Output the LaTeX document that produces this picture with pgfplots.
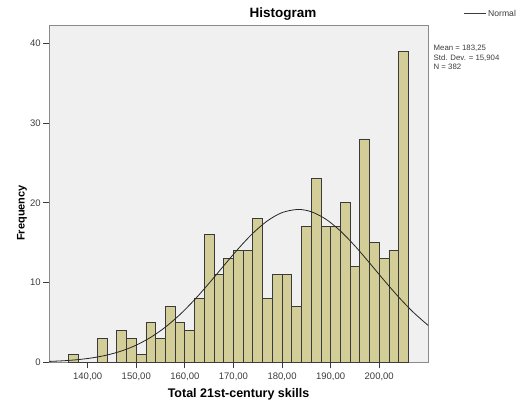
\documentclass[border=0pt]{standalone}
\usepackage{fontspec}
\setmainfont{Liberation Sans}
\usepackage{pgfplots}
\pgfplotsset{compat=1.18}

\definecolor{panel}{HTML}{F0F0F0}
\definecolor{barfill}{HTML}{D3CE97}
\definecolor{baredge}{HTML}{3A3A3A}
\definecolor{frame}{HTML}{8A8A8A}
\definecolor{txt}{HTML}{3C3C3C}

\begin{document}
\begin{tikzpicture}[x=1pt,y=1pt]
\useasboundingbox (0,0) rectangle (517,403);
\begin{axis}[
  at={(49.3pt,40.7pt)}, anchor=south west,
  scale only axis, width=379pt, height=336.8pt,
  xmin=132.1, xmax=210.1, ymin=0, ymax=42.23,
  axis background/.style={fill=panel},
  axis line style={draw=frame, line width=1.2pt},
  tick align=outside, tick pos=left,
  major tick length=6pt,
  tick style={draw=txt, line width=0.8pt},
  xtick={140,150,160,170,180,190,200},
  xticklabels={{140,00},{150,00},{160,00},{170,00},{180,00},{190,00},{200,00}},
  ytick={0,10,20,30,40},
  yticklabels={0,10,20,30,40},
  tick label style={font=\fontsize{9.5}{11}\selectfont, text=txt},
  xticklabel style={yshift=-1pt},
  yticklabel style={xshift=1pt},
]
% frequencies per bin of width 2, left edges 136 ... 204 (last point closes the final bin)
\addplot[ybar interval, fill=barfill, draw=baredge, line width=0.8pt] coordinates {
  (136,1) (138,0) (140,0) (142,3) (144,0) (146,4) (148,3) (150,1)
  (152,5) (154,3) (156,7) (158,5) (160,4) (162,8) (164,16) (166,11)
  (168,13) (170,14) (172,14) (174,18) (176,8) (178,11) (180,11) (182,7)
  (184,17) (186,23) (188,17) (190,17) (192,20) (194,12) (196,28) (198,15)
  (200,13) (202,14) (204,39) (206,39)
};
% fitted normal curve: mean 183.25, sd 15.904, N = 382, bin width 2
\addplot[black!85, line width=0.8pt, smooth] coordinates {
  (132.1,0.109) (135,0.192) (138,0.335) (141,0.562) (144,0.912) (147,1.427)
  (150,2.155) (153,3.141) (156,4.416) (159,5.993) (162,7.850) (165,9.922)
  (168,12.102) (171,14.245) (174,16.183) (177,17.741) (180,18.769)
  (183.25,19.165) (186,18.881) (189,17.952) (192,16.473) (195,14.588)
  (198,12.467) (201,10.281) (204,8.182) (207,6.284) (210.1,4.609)
};
\end{axis}
% titles and labels
\node[anchor=base, font=\bfseries\fontsize{13.5}{15}\selectfont] at (283,385) {Histogram};
\node[anchor=base, font=\bfseries\fontsize{12.5}{14}\selectfont] at (238.5,5.5) {Total 21st-century skills};
\node[anchor=center, rotate=90, font=\bfseries\fontsize{11}{13}\selectfont] at (22,190) {Frequency};
% legend entry
\draw[txt, line width=0.8pt] (464,389.7) -- (486,389.7);
\node[anchor=west, inner sep=0pt, font=\fontsize{8.6}{10}\selectfont, text=txt] at (488,389.7) {Normal};
% summary statistics
\node[anchor=north west, inner sep=0pt, align=left, text=txt,
      font=\fontsize{7.8}{9.6}\selectfont] at (433.5,358) {Mean = 183,25\\Std. Dev. = 15,904\\N = 382};
\end{tikzpicture}
\end{document}
